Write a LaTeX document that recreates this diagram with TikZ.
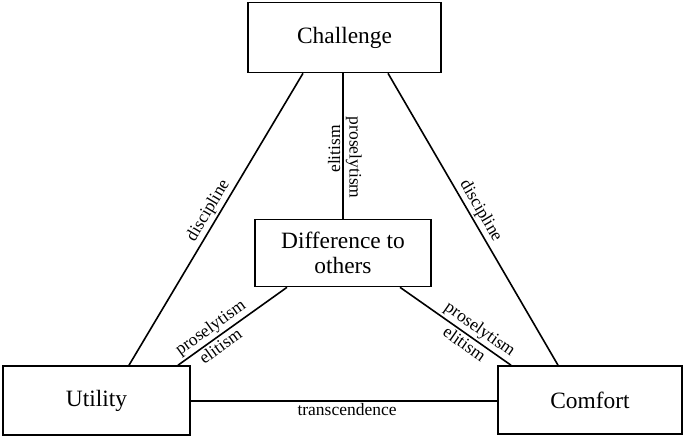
\documentclass[tikz,border=0pt]{standalone}
\usepackage{fontspec}
\setmainfont{Liberation Serif}
\begin{document}
\begin{tikzpicture}[x=1pt,y=-1pt,
  boxnode/.style={draw,line width=1.6pt,inner sep=0pt,font=\fontsize{23.4}{27}\selectfont,align=center},
  conn/.style={line width=1.6pt},
  lbl/.style={inner sep=2pt,font=\fontsize{17.5}{20}\selectfont}]
\useasboundingbox (0,0) rectangle (685,438);
\node[boxnode,minimum width=193pt,minimum height=70pt] (ch) at (344.5,37.5) {Challenge};
\node[boxnode,minimum width=176pt,minimum height=67pt] (df) at (343,253) {Difference to\\[-2pt]others};
\node[boxnode,minimum width=187pt,minimum height=69pt] (ut) at (96.5,400.5) {Utility};
\node[boxnode,minimum width=184pt,minimum height=68pt] (co) at (590,400) {Comfort};
% connectors
\draw[conn] (303,0 |- ch.south) -- node[lbl,pos=0.49,rotate=59.2,anchor=south]{discipline} (129,0 |- ut.north);
\draw[conn] (388,0 |- ch.south) -- node[lbl,pos=0.49,rotate=-59.8,anchor=south]{discipline} (558,0 |- co.north);
\draw[conn] (343,0 |- ch.south) -- node[lbl,pos=0.52,rotate=90,anchor=south]{elitism}
  node[lbl,pos=0.58,rotate=-90,anchor=south]{proselytism} (343,0 |- df.north);
\draw[conn] (287,0 |- df.south) -- node[lbl,pos=0.64,rotate=35.6,anchor=south]{proselytism}
  node[lbl,pos=0.66,rotate=35.6,anchor=north]{elitism} (178,0 |- ut.north);
\draw[conn] (400,0 |- df.south) -- node[lbl,pos=0.66,rotate=-35.1,anchor=south]{proselytism}
  node[lbl,pos=0.63,rotate=-35.1,anchor=north]{elitism} (511,0 |- co.north);
\draw[conn] (ut.east |- 0,401) -- node[lbl,pos=0.51,anchor=north]{transcendence} (co.west |- 0,401);
\end{tikzpicture}
\end{document}
